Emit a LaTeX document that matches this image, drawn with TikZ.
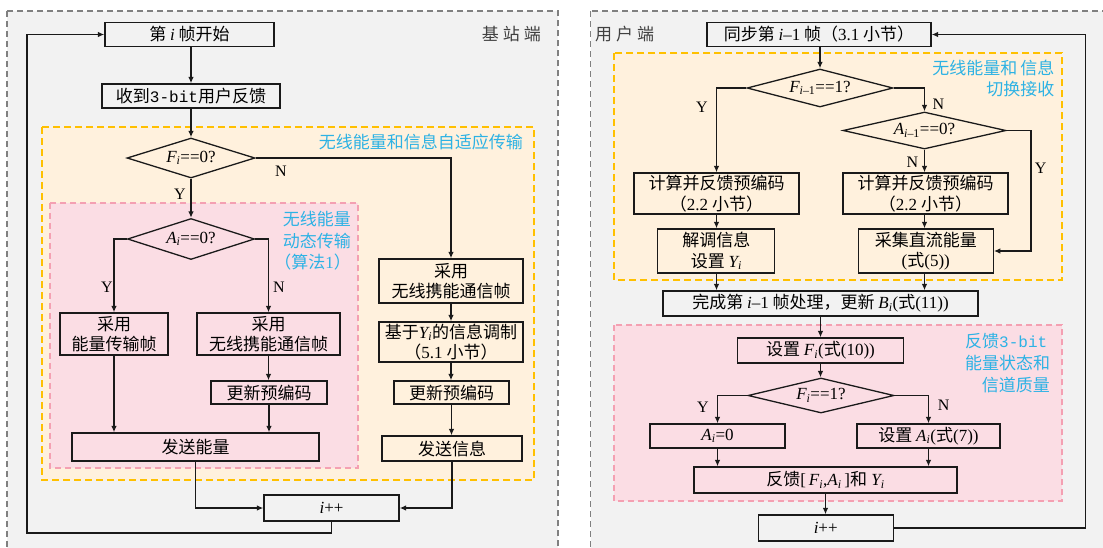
\documentclass[tikz,border=0pt]{standalone}
\usepackage{fontspec}
\setmainfont{Liberation Serif}
\newfontfamily\cjk{Noto Sans CJK SC}
\newfontfamily\monof{Liberation Mono}
\usetikzlibrary{shapes.geometric,arrows.meta}
\newcommand{\mi}[1]{{\rmfamily\itshape #1}}
\newcommand{\msub}[1]{\textsubscript{\rmfamily\itshape #1}}
\newcommand{\tm}[1]{{\rmfamily #1}}
\newcommand{\tbit}{{\monof\fontsize{16}{20.5}\selectfont 3-bit}}
\definecolor{lc}{RGB}{26,26,26}
\definecolor{pg}{RGB}{242,242,242}
\definecolor{pb}{RGB}{128,128,128}
\definecolor{og}{RGB}{255,241,221}
\definecolor{ob}{RGB}{255,192,0}
\definecolor{pk}{RGB}{251,221,228}
\definecolor{pkb}{RGB}{244,160,178}
\definecolor{cy}{RGB}{45,178,228}
\definecolor{tg}{RGB}{64,64,64}
\begin{document}
\begin{tikzpicture}[x=1pt,y=-1pt,
  every node/.style={font=\cjk\fontsize{17}{20.5}\selectfont, inner sep=0pt},
  box/.style={draw=lc, line width=1.3pt, align=center},
  dia/.style={draw=lc, line width=1.3pt, diamond, aspect=3.5},
  arr/.style={draw=lc, line width=1.3pt, -{Latex[length=6.5pt,width=5.5pt]}},
  lab/.style={font=\rmfamily\fontsize{16}{18}\selectfont},
  ttl/.style={text=cy, anchor=east},
  ttll/.style={text=cy, anchor=west},
  panel/.style={fill=pg, draw=pb, line width=1.2pt, dash pattern=on 6pt off 4pt},
  obox/.style={fill=og, draw=ob, line width=1.5pt, dash pattern=on 7pt off 4pt},
  pbox/.style={fill=pk, draw=pkb, line width=1.2pt, dash pattern=on 6pt off 4pt},
]
\useasboundingbox (0,0) rectangle (1103,547);
% panels
\path[panel] (7,11) rectangle (558,553);
\path[panel] (590.5,11) rectangle (1112,553);
\path[obox] (42,127) rectangle (534,480);
\path[pbox] (50,203) rectangle (358,468);
\path[obox] (614,53) rectangle (1062,280);
\path[pbox] (614,325) rectangle (1062,501);
% titles
\node[text=tg, anchor=east] (tL) at (541,34) {基\hspace{4pt}站\hspace{4pt}端};
\node[text=tg, anchor=west] (tR) at (595,34) {用\hspace{4pt}户\hspace{4pt}端};
\node[ttl] (t1) at (523,142) {无线能量和信息自适应传输};
\node[ttl] (t2a) at (351,219) {无线能量};
\node[ttl] (t2b) at (351,240.5) {动态传输};
\node[ttl] (t2c) at (351,262) {（算法\tm{1}）};
\node[ttl] (t3a) at (1054.5,68) {无线能量和\hspace{3pt}信息};
\node[ttl] (t3b) at (1054.5,89) {切换接收};
\node[ttll] (t4a) at (965,341) {反馈\tbit};
\node[ttll] (t4b) at (965,362.5) {能量状态和};
\node[ttl] (t4c) at (1050,385) {信道质量};
% left nodes
\node[box, minimum width=169pt, minimum height=24pt] (L1) at (189.5,34.5) {第 \mi{i} 帧开始};
\node[box, minimum width=178pt, minimum height=24pt] (L2) at (191,96) {收到\tbit 用户反馈};
\node[dia, minimum width=128pt, minimum height=40pt] (dF) at (191,158) {\mi{F}\msub{i}\tm{==0?}};
\node[dia, minimum width=127pt, minimum height=41pt] (dA) at (191,239) {\mi{A}\msub{i}\tm{==0?}};
\node[box, minimum width=108pt, minimum height=42pt] (L3) at (114,334) {采用\\能量传输帧};
\node[box, minimum width=143pt, minimum height=42pt] (L4) at (268.5,334) {采用\\无线携能通信帧};
\node[box, minimum width=116pt, minimum height=23pt] (L5) at (269,392.5) {更新预编码};
\node[box, minimum width=247pt, minimum height=28pt] (L6) at (195.5,447) {发送能量};
\node[box, minimum width=144pt, minimum height=44pt] (R1) at (451,281) {采用\\无线携能通信帧};
\node[box, minimum width=144pt, minimum height=40pt] (R2) at (451,342) {基于\mi{Y}\msub{i}的信息调制\\（\tm{5.1} 小节）};
\node[box, minimum width=115pt, minimum height=23pt] (R3) at (451.5,392.5) {更新预编码};
\node[box, minimum width=140pt, minimum height=25pt] (R4) at (452,448.5) {发送信息};
\node[box, minimum width=135pt, minimum height=26pt] (I1) at (331.5,508) {\mi{i}\tm{++}};
\node[lab] (yF) at (180,194) {Y};
\node[lab] (nF) at (281,171) {N};
\node[lab] (yA) at (107,287) {Y};
\node[lab] (nA) at (279,287) {N};
% right nodes
\node[box, minimum width=224pt, minimum height=24pt] (S1) at (819,34.5) {同步第 \mi{i}\tm{–1} 帧（\tm{3.1} 小节）};
\node[dia, minimum width=146pt, minimum height=38pt] (D1) at (820,88) {\mi{F}\msub{i\upshape –1}\tm{==1?}};
\node[dia, minimum width=163pt, minimum height=37pt] (D2) at (924.5,130.5) {\mi{A}\msub{i\upshape –1}\tm{==0?}};
\node[box, minimum width=165pt, minimum height=41pt] (C1) at (716.5,193.5) {计算并反馈预编码\\（\tm{2.2} 小节）};
\node[box, minimum width=165pt, minimum height=41pt] (C2) at (925.5,193.5) {计算并反馈预编码\\（\tm{2.2} 小节）};
\node[box, minimum width=117pt, minimum height=44pt] (J) at (716.3,251) {解调信息\\设置 \mi{Y}\msub{i}};
\node[box, minimum width=135pt, minimum height=44pt] (K) at (925.75,251) {采集直流能量\\\tm{(}式\tm{(5))}};
\node[box, minimum width=315pt, minimum height=25pt] (W) at (820.5,303.5) {完成第 \mi{i}\tm{–1} 帧处理，更新 \mi{B}\msub{i}\tm{(}式\tm{(11))}};
\node[box, minimum width=166pt, minimum height=25pt] (SF) at (820.5,350.5) {设置 \mi{F}\msub{i}\tm{(}式\tm{(10))}};
\node[dia, minimum width=146pt, minimum height=35pt] (D3) at (821,395.5) {\mi{F}\msub{i}\tm{==1?}};
\node[box, minimum width=135pt, minimum height=24pt] (A0) at (717.5,436) {\mi{A}\msub{i}\tm{=0}};
\node[box, minimum width=143pt, minimum height=24pt] (SA) at (928.5,436) {设置 \mi{A}\msub{i}\tm{(}式\tm{(7))}};
\node[box, minimum width=263pt, minimum height=26pt] (FB) at (825.5,480) {反馈\tm{[\,}\mi{F}\msub{i}\tm{,}\mi{A}\msub{i}\tm{\,]}和\tm{ }\mi{Y}\msub{i}};
\node[box, minimum width=135pt, minimum height=26pt] (I2) at (825.7,528) {\mi{i}\tm{++}};
\node[lab] (y1) at (702,107) {Y};
\node[lab] (n1) at (938.5,104) {N};
\node[lab] (n2) at (912.5,162) {N};
\node[lab] (y2) at (1040.6,168) {Y};
\node[lab] (y3) at (703,407) {Y};
\node[lab] (n3) at (943.6,405) {N};
% left connectors
\draw[arr] (L2.north |- L1.south) -- (L2.north);
\draw[arr] (L2.south) -- (dF.north);
\draw[arr] (dF.south) -- (dA.north);
\draw[arr] (dF.east) -| (R1.north);
\draw[arr] (dA.west) -| (L3.north);
\draw[arr] (dA.east) -| (L4.north);
\draw[arr] (L3.south) -- (L3.south |- L6.north);
\draw[arr] (L4.south) -- (L4.south |- L5.north);
\draw[arr] (L5.south) -- (L5.south |- L6.north);
\draw[arr] (R1.south) -- (R1.south |- R2.north);
\draw[arr] (R2.south) -- (R2.south |- R3.north);
\draw[arr] (R3.south) -- (R3.south |- R4.north);
\draw[arr] (L6.south) |- (I1.west);
\draw[arr] (R4.south) |- (I1.east);
\coordinate (lp) at (27,533);
\draw[arr] (I1.south) |- (lp) |- (L1.west);
% right connectors
\draw[arr] (D1.north |- S1.south) -- (D1.north);
\draw[arr] (D1.west) -| (C1.north);
\draw[arr] (D1.east) -| (D2.north);
\draw[arr] (D2.south) -- (D2.south |- C2.north);
\coordinate (yr) at (1031,251);
\draw[arr] (D2.east) -| (yr) -- (K.east);
\draw[arr] (C1.south) -- (C1.south |- J.north);
\draw[arr] (D2.south |- C2.south) -- (D2.south |- K.north);
\draw[arr] (C1.south |- J.south) -- (C1.south |- W.north);
\draw[arr] (D2.south |- K.south) -- (D2.south |- W.north);
\draw[arr] (W.south) -- (W.south |- SF.north);
\draw[arr] (SF.south) -- (SF.south |- D3.north);
\draw[arr] (D3.west) -| (A0.north);
\draw[arr] (D3.east) -| (SA.north);
\draw[arr] (A0.south) -- (A0.south |- FB.north);
\draw[arr] (SA.south) -- (SA.south |- FB.north);
\draw[arr] (FB.south) -- (FB.south |- I2.north);
\coordinate (rr) at (1085.6,34.5);
\draw[arr] (I2.east) -| (rr) -- (S1.east);
\end{tikzpicture}
\end{document}
